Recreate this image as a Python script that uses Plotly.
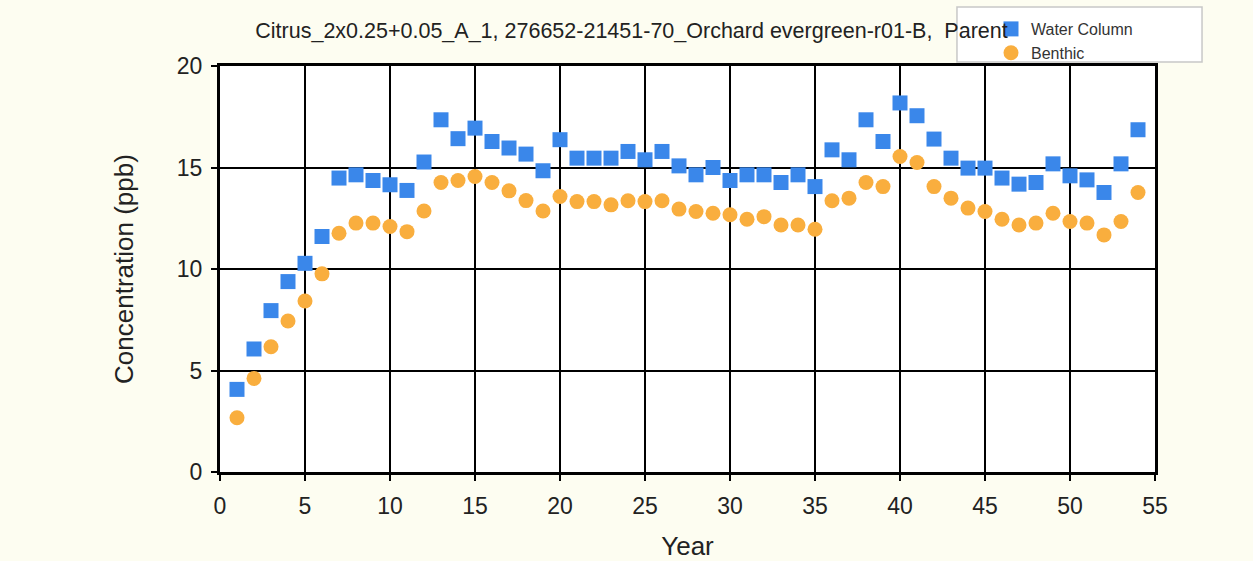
import plotly.graph_objects as go

years = list(range(1, 55))
water_column = [4.07, 6.06, 7.95, 9.38, 10.28, 11.6, 14.48, 14.64, 14.36, 14.15,
                13.87, 15.27, 17.35, 16.42, 16.94, 16.28, 15.96, 15.66, 14.84, 16.37,
                15.46, 15.46, 15.46, 15.79, 15.38, 15.79, 15.08, 14.64, 15.0, 14.36,
                14.64, 14.64, 14.26, 14.64, 14.06, 15.87, 15.38, 17.35, 16.28, 18.18,
                17.55, 16.4, 15.46, 14.97, 14.97, 14.48, 14.18, 14.26, 15.18, 14.59,
                14.39, 13.77, 15.18, 16.86]
benthic = [2.67, 4.61, 6.17, 7.44, 8.42, 9.76, 11.76, 12.26, 12.26, 12.09,
           11.84, 12.86, 14.26, 14.36, 14.56, 14.26, 13.85, 13.37, 12.86, 13.57,
           13.32, 13.32, 13.16, 13.36, 13.32, 13.36, 12.95, 12.83, 12.75, 12.67,
           12.45, 12.58, 12.17, 12.17, 11.96, 13.36, 13.49, 14.26, 14.06, 15.54,
           15.25, 14.06, 13.49, 13.0, 12.83, 12.45, 12.17, 12.26, 12.75, 12.34,
           12.26, 11.68, 12.34, 13.77]
x_ticks = [0, 5, 10, 15, 20, 25, 30, 35, 40, 45, 50, 55]
y_ticks = [0, 5, 10, 15, 20]

title_text = "Citrus_2x0.25+0.05_A_1, 276652-21451-70_Orchard evergreen-r01-B,  Parent"
FONT = "Liberation Sans, Arial, sans-serif"
BG = "#FDFDF1"

fig = go.Figure()
fig.add_trace(go.Scatter(x=years, y=water_column, mode="markers", name="Water Column",
                         marker=dict(symbol="square", size=15, color="#3A87EA")))
fig.add_trace(go.Scatter(x=years, y=benthic, mode="markers", name="Benthic",
                         marker=dict(symbol="circle", size=15, color="#F9AE3E")))

# legend frame (box behind the legend entries)
fig.add_shape(type="rect", xref="paper", yref="paper",
              x0=0.7882, x1=1.0503, y0=1.0099, y1=1.1453,
              fillcolor="white", line=dict(color="#C8C8C8", width=1.5), layer="above")

fig.update_layout(
    width=1253, height=561,
    paper_bgcolor=BG, plot_bgcolor="white",
    margin=dict(l=220, r=98, t=66, b=89),
    font=dict(family=FONT, color="#222222"),
    title=dict(text=title_text, x=0.504, xanchor="center", xref="container",
               y=0.9465, yanchor="middle", yref="container",
               font=dict(size=21.5, family=FONT, color="#222222")),
    showlegend=True,
    legend=dict(x=0.8246, y=1.133, xanchor="left", yanchor="top",
                bgcolor="rgba(0,0,0,0)", borderwidth=0,
                font=dict(size=16, family=FONT, color="#333333"), tracegroupgap=0,
                itemwidth=30),
)
fig.update_xaxes(range=[0, 55], tickvals=x_ticks, showgrid=True, gridcolor="black", gridwidth=1.5,
                 showline=True, linecolor="black", linewidth=3, mirror=True, automargin=False,
                 ticks="outside", ticklen=6, tickcolor="black", tickwidth=1.5, zeroline=False,
                 tickfont=dict(size=23), ticklabelstandoff=5,
                 title=dict(text="Year", font=dict(size=26), standoff=24))
fig.update_yaxes(range=[0, 20], tickvals=y_ticks, showgrid=True, gridcolor="black", gridwidth=1.5,
                 showline=True, linecolor="black", linewidth=3, mirror=True, automargin=False,
                 ticks="outside", ticklen=6, tickcolor="black", tickwidth=1.5, zeroline=False,
                 tickfont=dict(size=23), ticklabelstandoff=4,
                 title=dict(text="Concentration (ppb)", font=dict(size=26), standoff=36))

fig.write_html("out.html", config={"displayModeBar": False},
               post_script="document.body.style.margin='0';document.body.style.background='%s';" % BG)
